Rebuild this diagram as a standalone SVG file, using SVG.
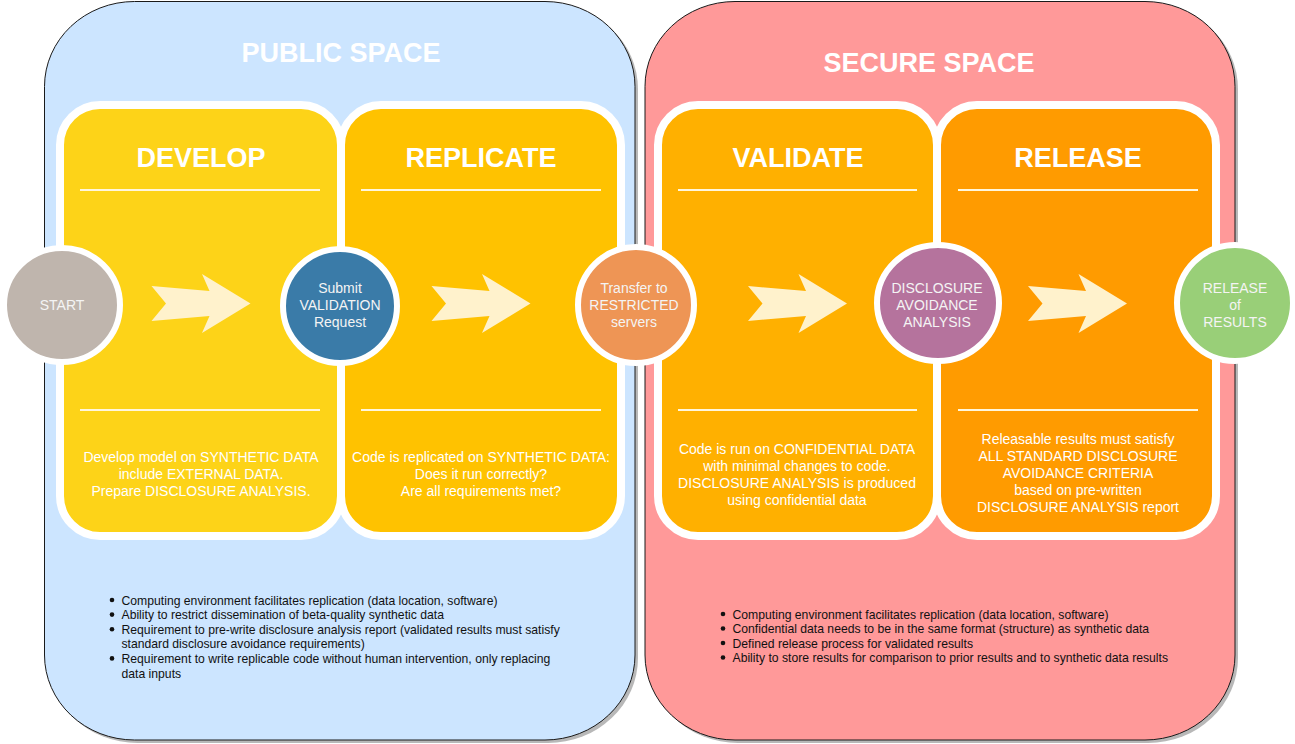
<svg xmlns="http://www.w3.org/2000/svg" width="1295" height="744" viewBox="0 0 1295 744">
<style>
.space{stroke:#1a1a1a;stroke-width:1}
.shadow{fill:#9a9a9a;opacity:.7}
.box{stroke:#ffffff;stroke-width:8}
.sep{stroke:#fff6dc;stroke-width:2}
.sptitle{font-family:"Liberation Sans",Arial,sans-serif;font-weight:bold;font-size:27px;fill:#ffffff;text-anchor:middle}
.btitle{font-family:"Liberation Sans",Arial,sans-serif;font-weight:bold;font-size:27px;fill:#ffffff;text-anchor:middle}
.body{font-family:"Liberation Sans",Arial,sans-serif;font-size:14px;fill:#ffffff;text-anchor:middle}
.node{stroke:#ffffff;stroke-width:6}
.ntext{font-family:"Liberation Sans",Arial,sans-serif;font-size:14px;fill:#f4f4f4;text-anchor:middle}
.bullet{font-family:"Liberation Sans",Arial,sans-serif;font-size:12.2px;fill:#111111}
.dot{fill:#111111}
.arrow{fill:#fff2cc}
</style>
<defs>
<polygon id="chev" points="0,286 58,291 50.5,274 99,303.5 50.5,333 58,316 0,321 14.5,303.5"/>
</defs>

<g id="public-space">
<rect class="shadow" x="47.5" y="4" width="590.5" height="739" rx="90" ry="85"/>
<rect class="space" x="44.5" y="1.5" width="590.5" height="738.5" rx="90" ry="85" fill="#cce5ff"/>
<text class="sptitle" x="341" y="62">PUBLIC SPACE</text>
<g id="public-requirements">
<circle class="dot" cx="112" cy="600" r="2.3"/>
<circle class="dot" cx="112" cy="614.6" r="2.3"/>
<circle class="dot" cx="112" cy="629.2" r="2.3"/>
<circle class="dot" cx="112" cy="658.4" r="2.3"/>
<text class="bullet" x="121.5" y="604.5">Computing environment facilitates replication (data location, software)</text>
<text class="bullet" x="121.5" y="619.1">Ability to restrict dissemination of beta-quality synthetic data</text>
<text class="bullet" x="121.5" y="633.7">Requirement to pre-write disclosure analysis report (validated results must satisfy</text>
<text class="bullet" x="121.5" y="648.3">standard disclosure avoidance requirements)</text>
<text class="bullet" x="121.5" y="662.9">Requirement to write replicable code without human intervention, only replacing</text>
<text class="bullet" x="121.5" y="677.5">data inputs</text>
</g>
</g>

<g id="secure-space">
<rect class="shadow" x="648" y="4" width="590" height="739" rx="90" ry="85"/>
<rect class="space" x="645" y="1.5" width="590" height="738.5" rx="90" ry="85" fill="#ff9999"/>
<text class="sptitle" x="929" y="72">SECURE SPACE</text>
<g id="secure-requirements">
<circle class="dot" cx="723" cy="614" r="2.3"/>
<circle class="dot" cx="723" cy="628.5" r="2.3"/>
<circle class="dot" cx="723" cy="643" r="2.3"/>
<circle class="dot" cx="723" cy="657.5" r="2.3"/>
<text class="bullet" x="732.5" y="618.5">Computing environment facilitates replication (data location, software)</text>
<text class="bullet" x="732.5" y="633">Confidential data needs to be in the same format (structure) as synthetic data</text>
<text class="bullet" x="732.5" y="647.5">Defined release process for validated results</text>
<text class="bullet" x="732.5" y="662">Ability to store results for comparison to prior results and to synthetic data results</text>
</g>
</g>

<g id="develop">
<rect class="box" x="60" y="105" width="281" height="431" rx="40" ry="40" fill="#fdd318"/>
<text class="btitle" x="201" y="167">DEVELOP</text>
<line class="sep" x1="80" y1="190" x2="320" y2="190"/>
<line class="sep" x1="80" y1="410" x2="320" y2="410"/>
<text class="body" x="201" y="461.5">Develop model on SYNTHETIC DATA</text>
<text class="body" x="201" y="478.5">include EXTERNAL DATA.</text>
<text class="body" x="201" y="495.5">Prepare DISCLOSURE ANALYSIS.</text>
</g>

<g id="replicate">
<rect class="box" x="341" y="105" width="280" height="431" rx="40" ry="40" fill="#ffc200"/>
<text class="btitle" x="481" y="167">REPLICATE</text>
<line class="sep" x1="361" y1="190" x2="601" y2="190"/>
<line class="sep" x1="361" y1="410" x2="601" y2="410"/>
<text class="body" x="481" y="461.5">Code is replicated on SYNTHETIC DATA:</text>
<text class="body" x="481" y="478.5">Does it run correctly?</text>
<text class="body" x="481" y="495.5">Are all requirements met?</text>
</g>

<g id="validate">
<rect class="box" x="658" y="105" width="279" height="431" rx="40" ry="40" fill="#ffb000"/>
<text class="btitle" x="798" y="167">VALIDATE</text>
<line class="sep" x1="678" y1="190" x2="917" y2="190"/>
<line class="sep" x1="678" y1="410" x2="917" y2="410"/>
<text class="body" x="797" y="453.5">Code is run on CONFIDENTIAL DATA</text>
<text class="body" x="797" y="470.5">with minimal changes to code.</text>
<text class="body" x="797" y="487.5">DISCLOSURE ANALYSIS is produced</text>
<text class="body" x="797" y="504.5">using confidential data</text>
</g>

<g id="release">
<rect class="box" x="937" y="105" width="279" height="431" rx="40" ry="40" fill="#ff9b00"/>
<text class="btitle" x="1078" y="167">RELEASE</text>
<line class="sep" x1="958" y1="190" x2="1198" y2="190"/>
<line class="sep" x1="958" y1="410" x2="1198" y2="410"/>
<text class="body" x="1078" y="444">Releasable results must satisfy</text>
<text class="body" x="1078" y="461">ALL STANDARD DISCLOSURE</text>
<text class="body" x="1078" y="478">AVOIDANCE CRITERIA</text>
<text class="body" x="1078" y="495">based on pre-written</text>
<text class="body" x="1078" y="512">DISCLOSURE ANALYSIS report</text>
</g>

<g id="connectors">
<use href="#chev" class="arrow" transform="translate(151.5,0)"/>
<use href="#chev" class="arrow" transform="translate(431.5,0)"/>
<use href="#chev" class="arrow" transform="translate(748,0)"/>
<use href="#chev" class="arrow" transform="translate(1028,0)"/>
</g>

<g id="start">
<ellipse class="node" cx="62" cy="305" rx="58" ry="57" fill="#bfb5ad"/>
<text class="ntext" x="62" y="310">START</text>
</g>

<g id="submit-validation">
<ellipse class="node" cx="340" cy="306" rx="57" ry="57" fill="#3a7ba8"/>
<text class="ntext" x="340" y="293">Submit</text>
<text class="ntext" x="340" y="310">VALIDATION</text>
<text class="ntext" x="340" y="327">Request</text>
</g>

<g id="transfer">
<ellipse class="node" cx="636" cy="305" rx="58" ry="58" fill="#ee9555"/>
<text class="ntext" x="634" y="293">Transfer to</text>
<text class="ntext" x="634" y="310">RESTRICTED</text>
<text class="ntext" x="634" y="327">servers</text>
</g>

<g id="disclosure-analysis">
<ellipse class="node" cx="938" cy="303" rx="61" ry="58" fill="#b5739d"/>
<text class="ntext" x="937" y="293">DISCLOSURE</text>
<text class="ntext" x="937" y="310">AVOIDANCE</text>
<text class="ntext" x="937" y="327">ANALYSIS</text>
</g>

<g id="release-results">
<ellipse class="node" cx="1235" cy="303" rx="58" ry="58" fill="#99cf78"/>
<text class="ntext" x="1235" y="293">RELEASE</text>
<text class="ntext" x="1235" y="310">of</text>
<text class="ntext" x="1235" y="327">RESULTS</text>
</g>
</svg>
